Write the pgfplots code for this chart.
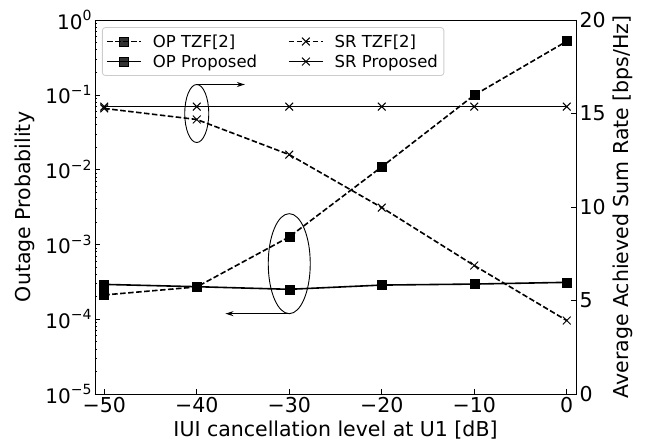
\documentclass[border=0pt]{standalone}
\usepackage{fontspec}
\setmainfont{DejaVu Sans}
\usepackage{pgfplots}
\pgfplotsset{compat=1.18}
\usetikzlibrary{arrows.meta}
\newcommand\pw[1]{10\raisebox{0.42em}{\fontsize{14bp}{14bp}\selectfont #1}}
\begin{document}
\begin{tikzpicture}
\pgfplotsset{
  every axis/.append style={
    scale only axis, width=481bp, height=374bp,
    xmin=-51, xmax=1,
    tick align=inside,
    major tick length=5bp, minor tick length=2.5bp,
    every tick/.style={black, line width=0.6bp},
    axis line style={line width=0.8bp},
    tick label style={font=\fontsize{20.5bp}{22bp}\selectfont},
    label style={font=\fontsize{20.5bp}{23bp}\selectfont},
    legend image code/.code={\draw[mark repeat=2,mark phase=2,#1] plot coordinates {(0bp,0bp) (17bp,0bp) (34bp,0bp)};},
  },
  optzf/.style={black, line width=1.6bp, dash pattern=on 5.5bp off 2.5bp, mark=square*, mark size=4.5bp, mark options={solid, line width=0.5bp}},
  opprop/.style={black, line width=1.6bp, mark=square*, mark size=4.5bp, mark options={solid, line width=0.5bp}},
  srtzf/.style={black, line width=1.6bp, dash pattern=on 5.5bp off 2.5bp, mark=x, mark size=5.5bp, mark options={solid, line width=1bp}},
  srprop/.style={black, line width=1.6bp, mark=x, mark size=5.5bp, mark options={solid, line width=1bp}},
}
\begin{axis}[name=ax1, ymode=log, ymin=1e-5, ymax=1,
  xtick={-50,-40,-30,-20,-10,0}, xticklabels={−50,−40,−30,−20,−10,0},
  xtick pos=left, ytick pos=left,
  ytick={1e-5,1e-4,1e-3,1e-2,1e-1,1},
  yticklabels={\pw{−5},\pw{−4},\pw{−3},\pw{−2},\pw{−1},\pw{0}},
  yticklabel style={font=\fontsize{20bp}{22bp}\selectfont},
  xlabel={IUI cancellation level at U1 [dB]},
  xlabel style={yshift=-1bp},
  ylabel={Outage Probability},
  ylabel style={yshift=4bp},
]
\addplot[optzf] coordinates {(-50,2.11e-4)(-40,2.7e-4)(-30,1.26e-3)(-20,1.09e-2)(-10,0.099)(0,0.52)};
\addplot[opprop] coordinates {(-50,2.92e-4)(-40,2.72e-4)(-30,2.51e-4)(-20,2.86e-4)(-10,2.95e-4)(0,3.11e-4)};
\end{axis}
\begin{axis}[ymin=0, ymax=20, axis y line*=right, axis x line=none,
  ytick={0,5,10,15,20}, yticklabels={0,5,10,15,20}, ytick pos=right,
  ylabel={Average Achieved Sum Rate [bps/Hz]},
  legend columns=2,
  legend style={at={(0.0145,0.981)}, anchor=north west, draw=black!20, line width=0.8bp,
    rounded corners=3bp, fill=white, fill opacity=0.8, text opacity=1,
    inner xsep=4bp, inner ysep=4bp,
    nodes={inner xsep=2bp, inner ysep=3bp},
    font=\fontsize{16.5bp}{19bp}\selectfont,
    /tikz/every odd column/.append style={column sep=9bp},
    /tikz/every even column/.append style={column sep=29bp},
    row sep=0bp, cells={anchor=west}},
]
\addlegendimage{optzf}
\addlegendentry{OP TZF[2]}
\addplot[srtzf] coordinates {(-50,15.27)(-40,14.68)(-30,12.8)(-20,9.97)(-10,6.87)(0,3.93)};
\addlegendentry{SR TZF[2]}
\addlegendimage{opprop}
\addlegendentry{OP Proposed}
\addplot[srprop] coordinates {(-50,15.37)(-40,15.37)(-30,15.37)(-20,15.37)(-10,15.37)(0,15.37)};
\addlegendentry{SR Proposed}
\draw[black, line width=0.9bp] (axis cs:-40,15) ellipse [x radius=12bp, y radius=29bp];
\draw[black, line width=1.1bp, -{Stealth[length=8bp,width=5bp]}] ([yshift=29bp]axis cs:-40,15) -- ([yshift=29bp]axis cs:-34.8,15);
\draw[black, line width=0.9bp] (axis cs:-30,6.97) ellipse [x radius=21bp, y radius=50bp];
\draw[black, line width=1.1bp, -{Stealth[length=8bp,width=5bp]}] ([yshift=-50bp]axis cs:-30,6.97) -- ([yshift=-50bp]axis cs:-36.9,6.97);
\end{axis}
\pgfresetboundingbox
\path ([xshift=-95bp,yshift=-51bp]ax1.south west) rectangle ([xshift=73bp,yshift=20bp]ax1.north east);
\end{tikzpicture}
\end{document}
